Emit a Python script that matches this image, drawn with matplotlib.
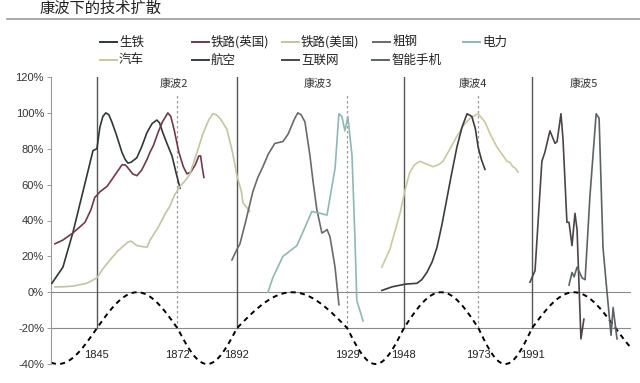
import numpy as np
import matplotlib.pyplot as plt
from matplotlib.lines import Line2D

plt.rcParams['font.family'] = ['Noto Sans CJK SC', 'DejaVu Sans']

# --- données (année, % de diffusion) ---
yr_shengtie = [1829.9, 1833.6, 1836.9, 1840.3, 1843.7, 1845.0, 1846.0, 1847.0, 1848.0, 1849.0, 1850.0,
               1851.5, 1853.4, 1854.5, 1855.4, 1856.5, 1858.4, 1860.0, 1861.8, 1863.5, 1865.1, 1866.0,
               1867.1, 1868.5, 1870.2, 1871.5, 1872.9]
val_shengtie = [5, 14, 33, 56, 79, 80, 92, 98, 100, 99, 95,
                88, 78, 74, 72, 72.5, 75, 81, 89, 94, 96, 94.5,
                89, 83, 76, 67, 58]

yr_rail_uk = [1830.9, 1833.5, 1836.9, 1839.0, 1841.0, 1843.0, 1844.3, 1845.0, 1846.0, 1848.4, 1850.5,
              1853.4, 1854.5, 1855.1, 1857.0, 1858.4, 1860.0, 1861.8, 1862.8, 1864.0, 1865.5, 1867.0,
              1868.8, 1869.8, 1871.0, 1872.5, 1874.0, 1875.2, 1876.5, 1878.0, 1879.2, 1879.8, 1880.3, 1880.9]
val_rail_uk = [27, 29, 33, 36, 39, 46, 53, 54, 56, 59, 64,
               71, 71, 70, 66, 65, 68, 74, 78, 82, 89, 95,
               100, 98, 90, 78, 70, 66, 67, 71, 76, 76, 70, 64]

yr_rail_us = [1830.9, 1833.0, 1836.9, 1841.6, 1845.0, 1847.0, 1849.4, 1852.0, 1855.4, 1856.5, 1858.4,
              1861.8, 1862.8, 1865.5, 1868.0, 1869.5, 1871.0, 1872.9, 1875.0, 1876.2, 1878.6, 1880.5,
              1882.5, 1883.9, 1885.0, 1886.3, 1888.6, 1890.5, 1892.0, 1893.5, 1894.0, 1896.3]
val_rail_us = [3, 3, 3.4, 5, 8, 13, 18, 23, 28, 28.5, 26,
               25, 29, 36, 44, 48, 54, 59, 63, 66, 78, 88,
               96, 99.5, 99, 97, 91, 78, 65, 56, 50, 45]

yr_steel = [1890.3, 1892.0, 1893.0, 1895.0, 1897.3, 1899.0, 1900.7, 1902.5, 1904.7, 1907.4, 1909.1,
            1911.4, 1912.4, 1913.5, 1914.8, 1916.5, 1917.5, 1918.8, 1920.5, 1921.5, 1922.2, 1923.2,
            1924.9, 1926.2]
val_steel = [18, 24, 27, 40, 56, 64, 70, 77, 83, 84, 88,
             97, 100, 99, 95, 76, 62, 46, 33, 34, 35, 31,
             14, -7]

yr_power = [1902.4, 1904.0, 1907.4, 1909.0, 1912.1, 1914.5, 1917.1, 1920.0, 1922.2, 1924.9, 1926.2,
            1927.2, 1928.2, 1929.2, 1930.6, 1931.6, 1932.2, 1934.3]
val_power = [0, 8, 20, 22, 26, 35, 45, 44, 43, 69, 99.5,
             98, 90, 98, 76, 29, -4.5, -16]

yr_car = [1940.6, 1943.3, 1946.7, 1948.4, 1950.0, 1951.5, 1953.4, 1955.5, 1957.8, 1959.5, 1961.1,
          1963.5, 1965.8, 1968.0, 1970.2, 1972.9, 1975.2, 1977.0, 1979.2, 1982.6, 1983.5, 1984.6,
          1985.5, 1986.3]
val_car = [14, 24, 44, 57, 67, 71, 73, 71.5, 70, 71, 73,
           80, 87, 93, 97, 99.5, 95, 88, 81, 73, 72.5, 70,
           69, 67]

yr_air = [1940.6, 1944.0, 1948.4, 1952.4, 1954.0, 1955.7, 1957.5, 1959.1, 1960.8, 1962.4, 1964.0,
          1965.8, 1967.5, 1969.2, 1970.8, 1972.0, 1972.9, 1974.0, 1975.2]
val_air = [1, 3, 4.5, 5, 7, 11, 17, 25, 38, 52, 66,
           81, 92, 99.5, 98, 91, 81, 74, 68.5]

yr_web = [1990.3, 1992.0, 1994.3, 1995.3, 1997.0, 1998.7, 1999.4, 2000.7, 2001.4, 2002.7, 2003.4,
          2004.4, 2005.4, 2006.1, 2007.4, 2008.4]
val_web = [5.6, 12, 73, 78, 90, 83, 84, 99.5, 85, 39, 39,
           26, 44, 35, -26, -15]

yr_phone = [2003.4, 2004.4, 2005.1, 2006.1, 2007.8, 2008.8, 2010.4, 2012.5, 2013.5, 2014.8, 2016.1,
            2017.5, 2018.2, 2019.5]
val_phone = [4, 11, 8.6, 14, 8, 7, 53, 99.5, 97, 25, 1,
             -24, -8.5, -26]

# années de passage de l'onde longue à -20 %
wave_years = [1819, 1845, 1872, 1892, 1929, 1948, 1973, 1991, 2019, 2047]
rise_years = [1845, 1892, 1948, 1991]     # traits pleins
fall_years = [1872, 1929, 1973]           # traits pointillés
label_years = [1845, 1872, 1892, 1929, 1948, 1973, 1991]
wave_names = ['康波2', '康波3', '康波4', '康波5']
wave_name_x = [1870.8, 1919.2, 1971.2, 2008.4]
yticks = [-40, -20, 0, 20, 40, 60, 80, 100, 120]

series = [
    ('生铁', yr_shengtie, val_shengtie, '#2e3838', 100, 42),
    ('铁路(英国)', yr_rail_uk, val_rail_uk, '#6e3b4b', 192, 42),
    ('铁路(美国)', yr_rail_us, val_rail_us, '#c3c4a4', 282, 42),
    ('粗钢', yr_steel, val_steel, '#6a6a6a', 373, 42),
    ('电力', yr_power, val_power, '#8fb8b2', 463, 42),
    ('汽车', yr_car, val_car, '#c9c99f', 100, 60),
    ('航空', yr_air, val_air, '#3a3d40', 192, 60),
    ('互联网', yr_web, val_web, '#4e4448', 282, 60),
    ('智能手机', yr_phone, val_phone, '#5a6464', 372, 60),
]

W, H = 640, 383
fig = plt.figure(figsize=(6.4, 3.83), dpi=100)
ax = fig.add_axes([51 / W, 1 - 364 / H, (631 - 51) / W, (364 - 77) / H])
x0, x1 = 1829.6, 2024.2
ax.set_xlim(x0, x1)
ax.set_ylim(-40, 120)

# onde longue en pointillés
t = np.linspace(x0, x1, 800)
w = np.zeros_like(t)
for i in range(len(wave_years) - 1):
    a, b = wave_years[i], wave_years[i + 1]
    m = (t >= a) & (t <= b)
    sign = 1 if a in rise_years else -1
    w[m] = -20 + sign * 20 * np.sin(np.pi * (t[m] - a) / (b - a))
ax.plot(t, w, color='black', lw=1.4, dashes=(2.6, 2.2), zorder=2, clip_on=False)

ax.axhline(0, color='#8a8a8a', lw=0.8, zorder=1)
ax.axhline(-20, color='#8a8a8a', lw=0.8, zorder=1)
for yv in rise_years:
    ax.plot([yv, yv], [-20, 120], color='#555555', lw=1.0, zorder=1)
for yv in fall_years:
    ax.plot([yv, yv], [-20, 110], color='#9a9a9a', lw=0.9, dashes=(2, 2), zorder=1)
for yv in label_years:
    ax.text(yv, -35, str(yv), ha='center', va='center', fontsize=8,
            family='Liberation Sans', color='#222222')
for name, xv in zip(wave_names, wave_name_x):
    ax.text(xv, 116, name, ha='center', va='center', fontsize=8, color='#333333')

for name, xs, ys, col, lx, ly in series:
    ax.plot(xs, ys, color=col, lw=1.2, zorder=3)

ax.set_yticks(yticks)
ax.set_yticklabels([f'{v}%' for v in yticks], family='Liberation Sans', fontsize=8, color='#333333')
ax.tick_params(axis='y', length=3, width=0.7, color='#999999', pad=2)
ax.tick_params(axis='x', bottom=False, labelbottom=False)
for s in ['top', 'right', 'bottom']:
    ax.spines[s].set_visible(False)
ax.spines['left'].set_color('#999999')
ax.spines['left'].set_linewidth(0.8)

# titre et légende
fig.text(40 / W, 1 - 8 / H, '康波下的技术扩散', fontsize=11, va='center', color='#222222')
fig.add_artist(Line2D([7 / W, 1], [1 - 19 / H, 1 - 19 / H], color='#9a9a9a', lw=1.2))
for name, xs, ys, col, lx, ly in series:
    fig.add_artist(Line2D([lx / W, (lx + 17) / W], [1 - ly / H, 1 - ly / H], color=col, lw=1.4))
    fig.text((lx + 19) / W, 1 - ly / H, name, fontsize=9, va='center', color='#222222')

fig.savefig('out.png', dpi=100)
